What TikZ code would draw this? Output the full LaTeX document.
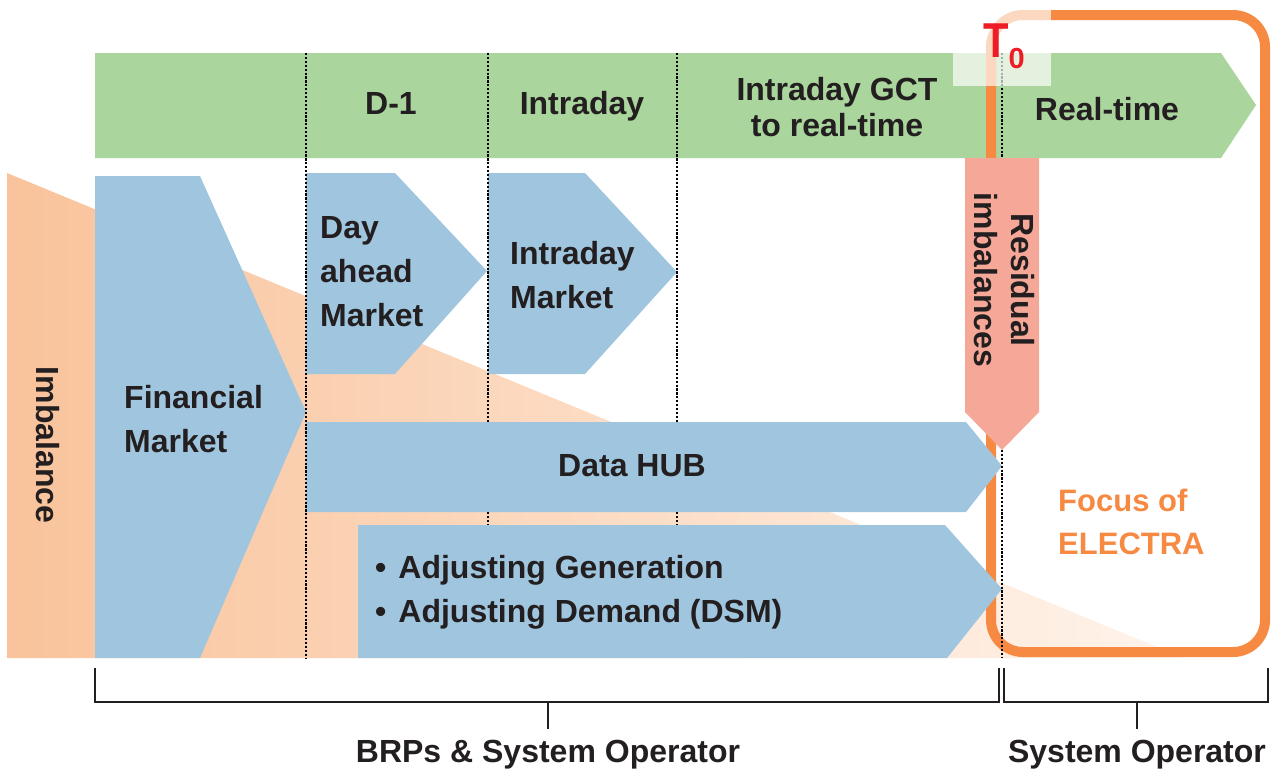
\documentclass[tikz,border=0pt]{standalone}
\usepackage{fontspec}
\setmainfont{Liberation Sans}
\definecolor{ink}{HTML}{231F20}
\definecolor{greenF}{HTML}{AAD59D}
\definecolor{blueF}{HTML}{A0C6DF}
\definecolor{salmonF}{HTML}{F5A898}
\definecolor{orangeE}{HTML}{F68A42}
\definecolor{peachL}{HTML}{F9C39B}
\definecolor{peachM}{HTML}{FACFAF}
\definecolor{peachR}{HTML}{FFF4EC}
\definecolor{redT}{HTML}{EE1C25}
\begin{document}
\begin{tikzpicture}[x=1pt,y=-1pt,
  lbl/.style={font=\bfseries\fontsize{32}{44}\selectfont, text=ink, inner sep=0pt},
  dotline/.style={draw=black, line width=2.3pt, dash pattern=on 2.2pt off 1.7pt},
  bracketline/.style={draw=ink, line width=2.2pt},
  bluearrow/.style={fill=blueF},
]
\useasboundingbox (0,0) rectangle (1271,769);

% growing imbalance wedge in the background
\shade[left color=peachL, middle color=peachM, right color=peachR]
  (7,173) -- (1184,658) -- (7,658) -- cycle;

% timeline bar
\fill[greenF] (95,53) -- (1221,53) -- (1256,105) -- (1221,158) -- (95,158) -- cycle;

% real-time frame
\draw[orangeE, line width=10pt, rounded corners=32pt] (991,15) rectangle (1265,652);

% market blocks
\fill[bluearrow] (95,176) -- (200,176) -- (306,412) -- (200,658) -- (95,658) -- cycle;
\fill[bluearrow] (306,173) -- (395,173) -- (487,271) -- (395,374) -- (306,374) -- cycle;
\fill[bluearrow] (488,173) -- (585,173) -- (677,272) -- (585,374) -- (488,374) -- cycle;
\fill[bluearrow] (306,422) -- (966,422) -- (1002,466) -- (966,512) -- (306,512) -- cycle;
\fill[bluearrow] (358,525) -- (945,525) -- (1002,589) -- (947,658) -- (358,658) -- cycle;

% residual imbalances arrow
\fill[salmonF] (965,158) -- (1039,158) -- (1039,412) -- (1002,450) -- (965,412) -- cycle;

% phase separators
\draw[dotline] (306,53) -- (306,658);
\draw[dotline] (488,53) -- (488,422);
\draw[dotline] (488,512) -- (488,525);
\draw[dotline] (677,53) -- (677,422);
\draw[dotline] (677,512) -- (677,525);
\draw[dotline] (1002,53) -- (1002,158);
\draw[dotline] (1002,450) -- (1002,658);

% veil behind the T0 label
\fill[white, opacity=0.67] (953,0) rectangle (1051,86);

% labels
\node[lbl, rotate=-90] (imb) at (48,445) {Imbalance};
\node[lbl, align=left, anchor=north west] (fin) at (124,385) {Financial\\Market};
\node[lbl, align=left, anchor=north west] (dam) at (320,216) {Day\\ahead\\Market};
\node[lbl, align=left, anchor=north west] (idm) at (510,241) {Intraday\\Market};
\node[lbl, anchor=base] (hub) at (632,476) {Data HUB};
\node[lbl, align=left, anchor=north west] (adj) at (375,555)
  {\textbullet\hspace{12pt}Adjusting Generation\\\textbullet\hspace{12pt}Adjusting Demand (DSM)};

\node[lbl, anchor=base] (d1) at (391,114) {D-1};
\node[lbl, anchor=base] (intra) at (582,114) {Intraday};
\node[lbl, align=center, anchor=north, font=\bfseries\fontsize{32}{36}\selectfont] (gct) at (837,77)
  {Intraday GCT\\to real-time};
\node[lbl, anchor=base] (rt) at (1107,120) {Real-time};

\node[lbl, rotate=-90, align=center, font=\bfseries\fontsize{32}{37}\selectfont] (res) at (1004,280)
  {Residual\\imbalances};

\node[lbl, align=left, anchor=north west, text=orangeE, font=\bfseries\fontsize{31}{43}\selectfont] (focus) at (1058,489)
  {Focus of\\ELECTRA};

\node[inner sep=0pt, anchor=base west, text=redT, font=\bfseries\fontsize{49}{49}\selectfont] (t0) at (983,57)
  {\scalebox{0.85}[1]{T}\raisebox{-11pt}{\fontsize{29}{29}\selectfont 0}};

% responsibility brackets
\coordinate (bA) at (95,668);
\coordinate (bB) at (999,668);
\coordinate (bC) at (1004,668);
\coordinate (bD) at (1268,668);
\coordinate (sA) at (548,702);
\coordinate (sB) at (1137,702);
\draw[bracketline] (bA) -- ++(0,34) -| (bB);
\draw[bracketline] (bC) -- ++(0,34) -| (bD);
\draw[bracketline] (sA) -- ++(0,27);
\draw[bracketline] (sB) -- ++(0,27);
\node[lbl, anchor=base] (brp) at (548,762) {BRPs \& System Operator};
\node[lbl, anchor=base] (so) at (1137,762) {System Operator};
\end{tikzpicture}
\end{document}
